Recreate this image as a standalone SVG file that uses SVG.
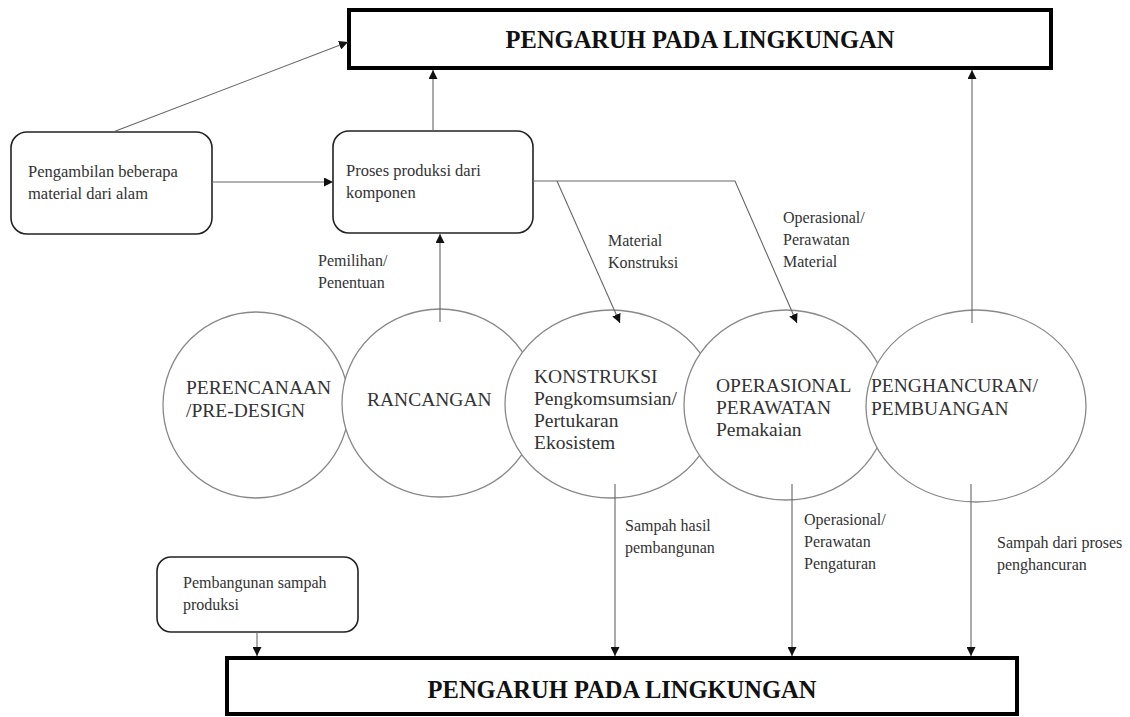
<svg xmlns="http://www.w3.org/2000/svg" width="1130" height="717" viewBox="0 0 1130 717">
<style>
.big{fill:#fff;stroke:#000;stroke-width:4}
.rbox{fill:#fff;stroke:#222;stroke-width:1.6}
.circ{fill:#fff;stroke:#888;stroke-width:1.3}
.title{font-family:"Liberation Serif","Times New Roman",serif;font-weight:bold;font-size:24.5px;fill:#111;text-anchor:middle}
.t{font-family:"Liberation Serif","Times New Roman",serif;font-size:16px;fill:#333}
.bt{font-family:"Liberation Serif","Times New Roman",serif;font-size:16.5px;fill:#333}
.c{font-family:"Liberation Serif","Times New Roman",serif;font-size:19.5px;fill:#333}
.con{stroke:#666;stroke-width:1.1;fill:none}
</style>
<defs>
<marker id="ah" viewBox="0 0 10 10" refX="10" refY="5" markerWidth="9" markerHeight="9" markerUnits="userSpaceOnUse" orient="auto">
<path d="M0,0 L10,5 L0,10 z" fill="#111"/>
</marker>
</defs>

<g id="top-box">
<rect class="big" x="349" y="10" width="702" height="58"/>
<text class="title" x="700" y="48">PENGARUH PADA LINGKUNGAN</text>
</g>

<g id="bottom-box">
<rect class="big" x="227" y="658" width="790" height="56"/>
<text class="title" x="622" y="698">PENGARUH PADA LINGKUNGAN</text>
</g>

<g id="box-pengambilan">
<rect class="rbox" x="11" y="132" width="201" height="102" rx="16"/>
<text class="bt" x="28" y="177">Pengambilan beberapa</text>
<text class="bt" x="28" y="199">material dari alam</text>
</g>

<g id="box-proses">
<rect class="rbox" x="333" y="131" width="200" height="102" rx="16"/>
<text class="bt" x="346" y="176">Proses produksi dari</text>
<text class="bt" x="346" y="198">komponen</text>
</g>

<g id="box-pembangunan">
<rect class="rbox" x="157" y="557" width="201" height="75" rx="14"/>
<text class="t" x="183" y="588">Pembangunan sampah</text>
<text class="t" x="183" y="610">produksi</text>
</g>

<g id="circle-perencanaan">
<ellipse class="circ" cx="256" cy="405" rx="93" ry="93"/>
<text class="c" x="186" y="394">PERENCANAAN</text>
<text class="c" x="186" y="417">/PRE-DESIGN</text>
</g>

<g id="circle-rancangan">
<ellipse class="circ" cx="440" cy="403" rx="98" ry="94"/>
<text class="c" x="367" y="406">RANCANGAN</text>
</g>

<g id="circle-konstruksi">
<ellipse class="circ" cx="611" cy="404" rx="106" ry="94"/>
<text class="c" x="534" y="383">KONSTRUKSI</text>
<text class="c" x="534" y="405">Pengkomsumsian/</text>
<text class="c" x="534" y="427">Pertukaran</text>
<text class="c" x="534" y="449">Ekosistem</text>
</g>

<g id="circle-operasional">
<ellipse class="circ" cx="786" cy="405" rx="102" ry="95"/>
<text class="c" x="716" y="392">OPERASIONAL</text>
<text class="c" x="716" y="414">PERAWATAN</text>
<text class="c" x="716" y="436">Pemakaian</text>
</g>

<g id="circle-penghancuran">
<ellipse class="circ" cx="976" cy="406" rx="110" ry="96"/>
<text class="c" x="871" y="392">PENGHANCURAN/</text>
<text class="c" x="871" y="415">PEMBUANGAN</text>
</g>

<g id="connectors">
<line class="con" x1="113" y1="132" x2="348" y2="42" marker-end="url(#ah)"/>
<line class="con" x1="212" y1="182" x2="333" y2="182" marker-end="url(#ah)"/>
<line class="con" x1="433" y1="131" x2="433" y2="70" marker-end="url(#ah)"/>
<line class="con" x1="440" y1="322" x2="440" y2="234" marker-end="url(#ah)"/>
<polyline class="con" points="533,181 735,181 797,323" marker-end="url(#ah)"/>
<line class="con" x1="557" y1="181" x2="620" y2="323" marker-end="url(#ah)"/>
<line class="con" x1="972" y1="323" x2="972" y2="70" marker-end="url(#ah)"/>
<line class="con" x1="615" y1="484" x2="615" y2="656" marker-end="url(#ah)"/>
<line class="con" x1="792" y1="484" x2="792" y2="656" marker-end="url(#ah)"/>
<line class="con" x1="971" y1="484" x2="971" y2="656" marker-end="url(#ah)"/>
<line class="con" x1="257" y1="632" x2="257" y2="656" marker-end="url(#ah)"/>
</g>

<g id="labels">
<text class="t" x="318" y="266">Pemilihan/</text>
<text class="t" x="318" y="288">Penentuan</text>
<text class="t" x="608" y="246">Material</text>
<text class="t" x="608" y="268">Konstruksi</text>
<text class="t" x="783" y="223">Operasional/</text>
<text class="t" x="783" y="245">Perawatan</text>
<text class="t" x="783" y="267">Material</text>
<text class="t" x="625" y="531">Sampah hasil</text>
<text class="t" x="625" y="553">pembangunan</text>
<text class="t" x="804" y="525">Operasional/</text>
<text class="t" x="804" y="547">Perawatan</text>
<text class="t" x="804" y="569">Pengaturan</text>
<text class="t" x="997" y="548">Sampah dari proses</text>
<text class="t" x="997" y="570">penghancuran</text>
</g>
</svg>
